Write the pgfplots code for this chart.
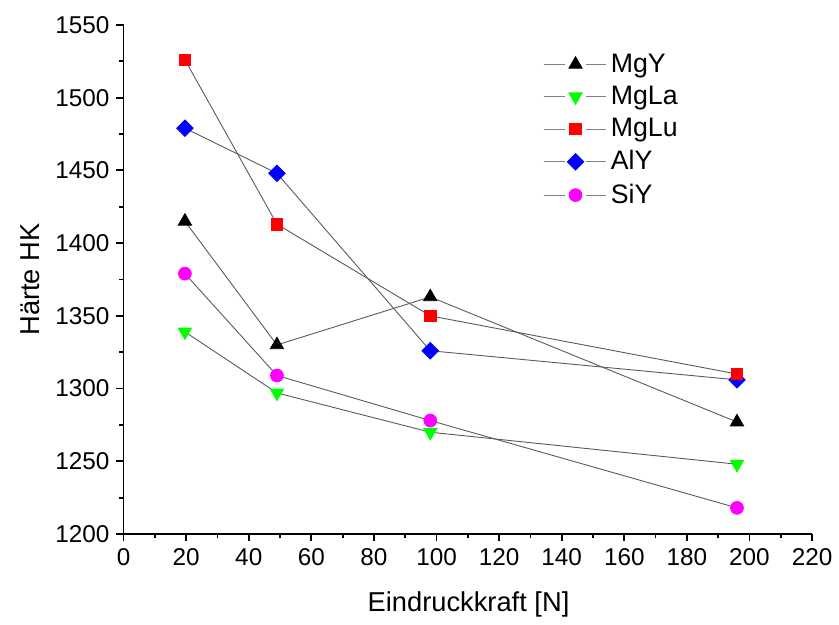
\documentclass[border=0pt]{standalone}
\usepackage{fontspec}
\setmainfont{Liberation Sans}
\usepackage{pgfplots}
\pgfplotsset{compat=1.18}

% Knoop hardness vs. indentation load for the five glass compositions
\pgfplotstableread{
F     MgY   MgLa  MgLu  AlY   SiY
19.6  1415  1339  1526  1479  1379
49    1330  1297  1413  1448  1309
98    1363  1270  1350  1326  1278
196   1277  1248  1310  1306  1218
}\hardness

\definecolor{cgreen}{RGB}{0,255,0}
\definecolor{cmag}{RGB}{255,0,255}
\definecolor{cred}{RGB}{255,0,0}
\definecolor{cblue}{RGB}{0,0,255}
\definecolor{cline}{RGB}{90,90,90}

\begin{document}
\begin{tikzpicture}
\begin{axis}[
  scale only axis,
  width=345.5pt, height=255.5pt,
  xmin=0, xmax=220, ymin=1200, ymax=1550,
  xtick={0,20,...,220}, ytick={1200,1250,...,1550},
  minor x tick num=1, minor y tick num=1,
  axis x line*=bottom, axis y line*=left,
  axis line style={line width=0.9pt},
  tick align=outside,
  major tick length=3.6pt, minor tick length=2.2pt,
  every tick/.style={line width=0.9pt, black},
  tick label style={font=\fontsize{12.2}{14}\selectfont},
  /pgf/number format/assume math mode=true,
  /pgf/number format/1000 sep={},
  label style={font=\fontsize{13.7}{16}\selectfont},
  xlabel={Eindruckkraft [N]},
  ylabel={Härte HK},
  xlabel style={at={(axis description cs:0.501,-0.139)}, anchor=center},
  ylabel style={at={(axis description cs:-0.136,0.5)}, anchor=center},
  clip=false,
  legend style={draw=none, fill=none, font=\fontsize{13.4}{15}\selectfont,
    at={(axis description cs:0.606,0.956)}, anchor=north west,
    row sep=1.5pt, inner sep=1pt},
  legend cell align=left,
  legend image code/.code={
    \draw[#1, mark=none, gray] (0pt,0pt) -- (10.5pt,0pt);
    \draw[#1, mark=none, gray] (21.5pt,0pt) -- (31.5pt,0pt);
    \draw[#1] plot coordinates {(16pt,0pt)};
  },
  every axis plot/.append style={cline, line width=0.45pt},
]
\addplot[mark=triangle*, mark size=3.8pt, mark options={fill=black, draw=black}]
  table[x=F, y=MgY] {\hardness};
\addlegendentry{MgY}
\addplot[mark=triangle*, mark size=3.8pt, mark options={rotate=180, fill=cgreen, draw=cgreen}]
  table[x=F, y=MgLa] {\hardness};
\addlegendentry{MgLa}
\addplot[mark=square*, mark size=2.9pt, mark options={fill=cred, draw=cred}]
  table[x=F, y=MgLu] {\hardness};
\addlegendentry{MgLu}
\addplot[mark=square*, mark size=2.9pt, mark options={rotate=45, fill=cblue, draw=cblue}]
  table[x=F, y=AlY] {\hardness};
\addlegendentry{AlY}
\addplot[mark=*, mark size=3.2pt, mark options={fill=cmag, draw=cmag}]
  table[x=F, y=SiY] {\hardness};
\addlegendentry{SiY}
% MgLu marker at 196 N sits on top of the AlY marker
\addplot[forget plot, only marks, mark=square*, mark size=2.9pt, mark options={fill=cred, draw=cred}]
  coordinates {(196,1310)};
% page extent
\path (rel axis cs:-0.1795,-0.1703) rectangle (rel axis cs:1.0347,1.0489);
\end{axis}
\end{tikzpicture}
\end{document}
